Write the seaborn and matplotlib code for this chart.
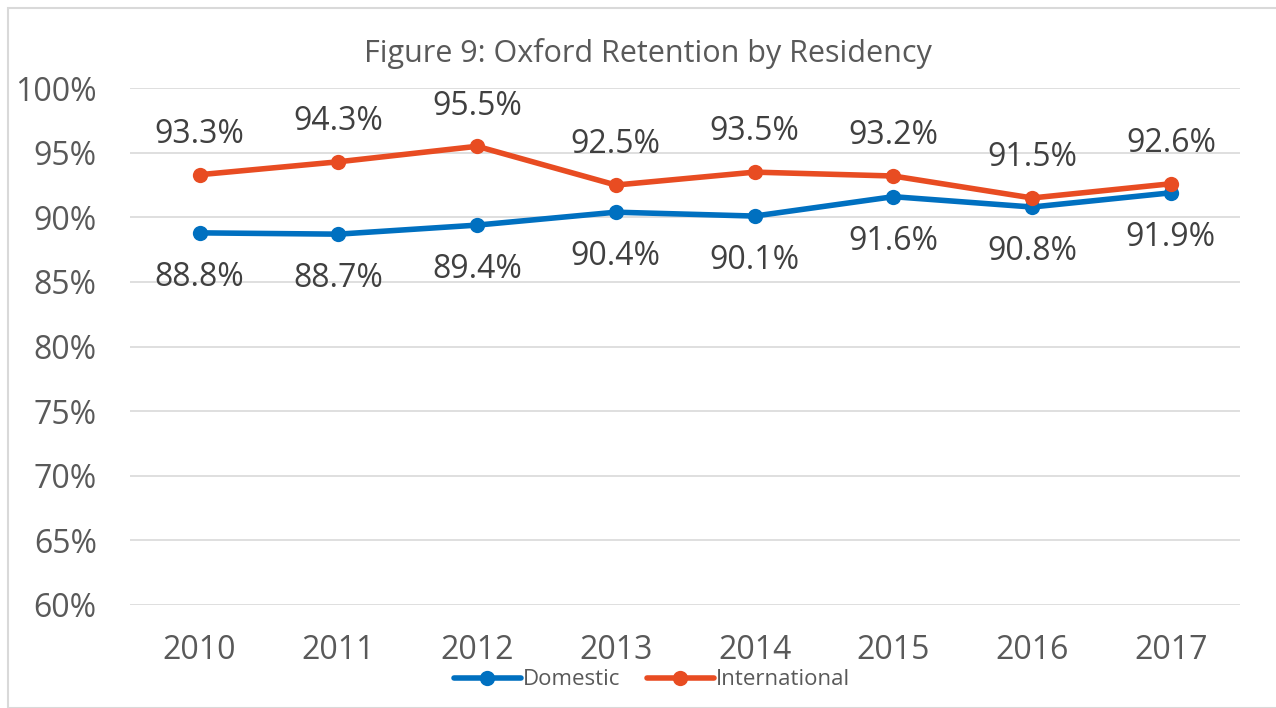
import matplotlib
matplotlib.use("Agg")
import matplotlib.pyplot as plt
import seaborn as sns
import pandas as pd
from matplotlib.patches import Rectangle

years = ["2010", "2011", "2012", "2013", "2014", "2015", "2016", "2017"]
domestic = [88.8, 88.7, 89.4, 90.4, 90.1, 91.6, 90.8, 91.9]
international = [93.3, 94.3, 95.5, 92.5, 93.5, 93.2, 91.5, 92.6]
yticks = [60, 65, 70, 75, 80, 85, 90, 95, 100]

df = pd.DataFrame({
    "Year": years * 2,
    "Retention": domestic + international,
    "Residency": ["Domestic"] * len(years) + ["International"] * len(years),
})

sns.set_style("white")
plt.rcParams["font.family"] = ["Open Sans", "DejaVu Sans"]

fig = plt.figure(figsize=(12.76, 7.08), dpi=100)
ax = fig.add_axes([0.102, 0.1455, 0.870, 0.730])

palette = {"Domestic": "#0070C0", "International": "#E84C22"}
sns.lineplot(data=df, x="Year", y="Retention", hue="Residency", palette=palette,
             marker="o", markersize=11, markeredgewidth=0, linewidth=4, ax=ax, sort=False)

ax.set_ylim(60, 100)
ax.set_xlim(-0.5, len(years) - 0.5)
ax.set_yticks(yticks)
ax.set_yticklabels([f"{t}%" for t in yticks])
ax.grid(axis="y", color="#D9D9D9", linewidth=1.2)
ax.set_axisbelow(True)
for s in ax.spines.values():
    s.set_visible(False)
ax.tick_params(axis="both", length=0, labelsize=23, colors="#595959")
ax.tick_params(axis="x", pad=21)
ax.tick_params(axis="y", pad=24)
ax.set_xlabel("")
ax.set_ylabel("")

for i, (d, n) in enumerate(zip(domestic, international)):
    ax.annotate(f"{n}%", (i, n), xytext=(0, 29), textcoords="offset points",
                ha="center", va="center", fontsize=23, color="#404040")
    ax.annotate(f"{d}%", (i, d), xytext=(0, -32), textcoords="offset points",
                ha="center", va="center", fontsize=23, color="#404040")

fig.text(0.508, 0.925, "Figure 9: Oxford Retention by Residency", ha="center", va="center",
         fontsize=22, color="#595959")

ax.legend(loc="center", bbox_to_anchor=(0.47, -0.145), ncol=2, frameon=False,
          fontsize=16, labelcolor="#595959", handlelength=3, handletextpad=0.1,
          columnspacing=1.2)

fig.patches.append(Rectangle((8 / 1276, 0), 1.0, 1 - 8 / 708, transform=fig.transFigure,
                             fill=False, edgecolor="#D9D9D9", linewidth=1.5))

fig.savefig("out.png", dpi=100)
